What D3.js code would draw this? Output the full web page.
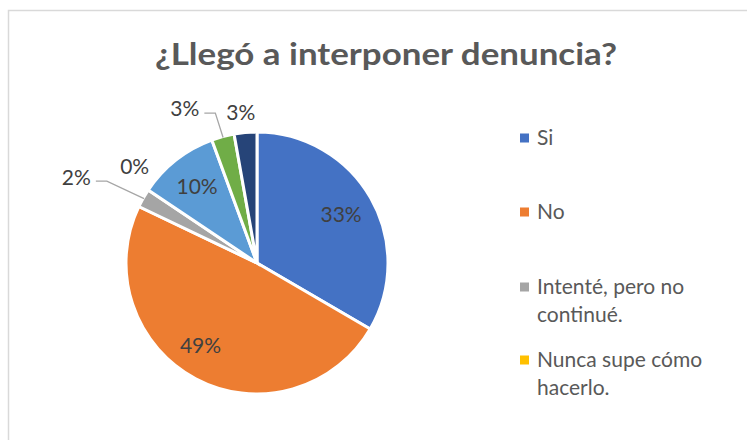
<!DOCTYPE html>
<html>
<head>
<meta charset="utf-8">
<script src="https://cdn.jsdelivr.net/npm/d3@7"></script>
<style>
  body { margin: 0; background: #fff; }
  svg { display: block; font-family: Lato, "Open Sans", sans-serif; }
</style>
</head>
<body>
<div id="chart"></div>
<script>
// datos
const categories = [
  "Si",
  "No",
  "Intenté, pero no continué.",
  "Nunca supe cómo hacerlo.",
  "Otra 1",
  "Otra 2",
  "Otra 3"
];
const values = [33.4, 48.7, 2.3, 0, 10.0, 2.8, 2.8];
const colors = ["#4472C4", "#ED7D31", "#A5A5A5", "#FFC000", "#5B9BD5", "#70AD47", "#264478"];
const legendCount = 4; // la leyenda sólo muestra las primeras cuatro
const title = "¿Llegó a interponer denuncia?";

const width = 747, height = 440;
const cx = 257, cy = 263, radius = 131;
const textColor = "#595959";
const labelColor = "#404040";

const svg = d3.select("#chart").append("svg")
  .attr("width", width)
  .attr("height", height);

// marco del gráfico
svg.append("rect")
  .attr("x", 8.5).attr("y", 10.5)
  .attr("width", 800).attr("height", 600)
  .attr("fill", "none")
  .attr("stroke", "#d9d9d9")
  .attr("stroke-width", 1.5);

svg.append("text")
  .attr("x", 386)
  .attr("y", 65)
  .attr("text-anchor", "middle")
  .attr("font-size", 31)
  .attr("font-weight", "bold")
  .attr("fill", textColor)
  .attr("textLength", 462)
  .attr("lengthAdjust", "spacingAndGlyphs")
  .text(title);

const data = categories.map((c, i) => ({ name: c, value: values[i], color: colors[i], i }));
const total = d3.sum(values);
const pct = d3.format(".0%");

const pie = d3.pie().sort(null).value(d => d.value);
const arcs = pie(data);
const arc = d3.arc().innerRadius(0).outerRadius(radius);

const g = svg.append("g").attr("transform", `translate(${cx},${cy})`);

g.selectAll("path")
  .data(arcs.filter(d => d.data.value > 0))
  .join("path")
  .attr("d", arc)
  .attr("fill", d => d.data.color)
  .attr("stroke", "#fff")
  .attr("stroke-width", 3)
  .attr("stroke-linejoin", "miter");

// ubicación de etiquetas: dentro para las grandes, fuera para las pequeñas
const labelPlace = {
  0: { r: 97, shift: 0 },
  1: { r: 100, shift: 6.5 },
  2: { r: 200, shift: -4.3, leader: true },
  3: { r: 156, shift: 4.5 },
  4: { r: 97, shift: 0 },
  5: { r: 170, shift: -10, leader: true },
  6: { r: 151, shift: -1.1 }
};
const rad = Math.PI / 180;

arcs.forEach(d => {
  const p = labelPlace[d.data.i];
  const mid = (d.startAngle + d.endAngle) / 2;
  const a = mid + p.shift * rad;
  const x = Math.sin(a) * p.r, y = -Math.cos(a) * p.r;
  const t = g.append("text")
    .attr("x", x)
    .attr("y", y)
    .attr("dy", "0.35em")
    .attr("text-anchor", "middle")
    .attr("font-size", 21)
    .attr("fill", labelColor)
    .text(pct(d.data.value / total));
  if (p.leader) {
    const bb = t.node().getBBox();
    const ex = Math.sin(mid) * (radius - 1), ey = -Math.cos(mid) * (radius - 1);
    const x2 = bb.x + bb.width + 5, y2 = y + 4;
    g.insert("polyline", "text")
      .attr("points", [[ex, ey], [x2 + 11, y2], [x2, y2]].map(q => q.join(",")).join(" "))
      .attr("fill", "none")
      .attr("stroke", "#A6A6A6")
      .attr("stroke-width", 1.3);
  }
});

// leyenda
const legend = svg.append("g").attr("transform", "translate(520,0)");
const legendY = [138, 212, 287, 360];
const maxW = 180;

data.slice(0, legendCount).forEach((d, i) => {
  const item = legend.append("g").attr("transform", `translate(0,${legendY[i]})`);
  item.append("rect")
    .attr("x", 0).attr("y", -4.5)
    .attr("width", 9).attr("height", 9)
    .attr("fill", d.color);
  const t = item.append("text")
    .attr("x", 17)
    .attr("font-size", 21)
    .attr("fill", textColor);
  // partir el texto en líneas
  const words = d.name.split(" ");
  let line = [];
  let tspan = t.append("tspan").attr("x", 17).attr("dy", "0.35em");
  words.forEach(w => {
    line.push(w);
    tspan.text(line.join(" "));
    if (tspan.node().getComputedTextLength() > maxW && line.length > 1) {
      line.pop();
      tspan.text(line.join(" "));
      line = [w];
      tspan = t.append("tspan").attr("x", 17).attr("dy", "28").text(w);
    }
  });
});
</script>
</body>
</html>
